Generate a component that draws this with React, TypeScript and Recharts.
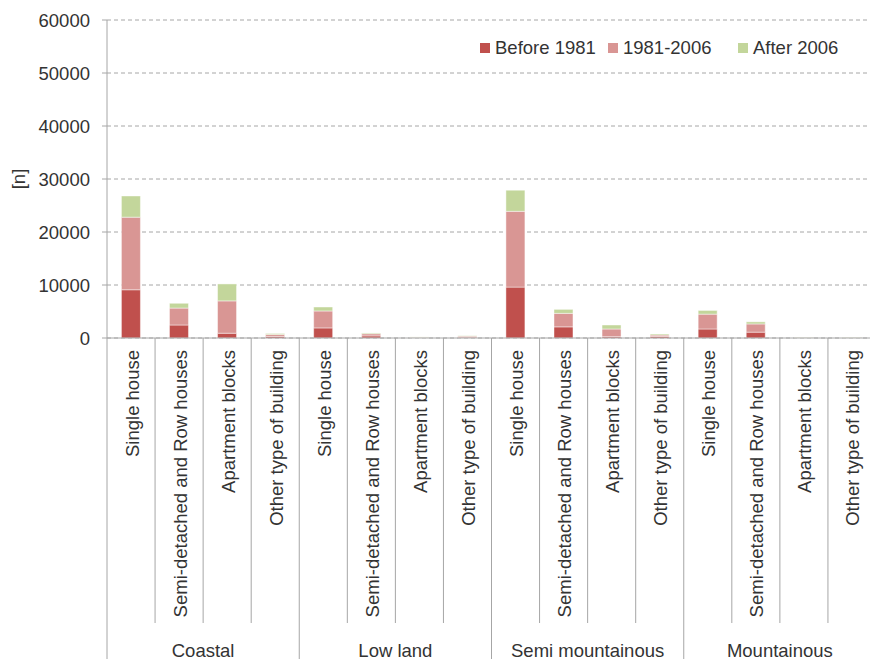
import React from "react";
import { BarChart, Bar, XAxis, YAxis, CartesianGrid, Legend, Label } from "recharts";

const regions = ["Coastal", "Low land", "Semi mountainous", "Mountainous"];
const buildingTypes = [
  "Single house",
  "Semi-detached and Row houses",
  "Apartment blocks",
  "Other type of building",
];
const before1981 = [9100, 2450, 900, 300, 1900, 400, 50, 150, 9600, 2100, 250, 300, 1700, 1100, 30, 30];
const from1981to2006 = [13700, 3200, 6100, 350, 3200, 400, 80, 200, 14300, 2550, 1450, 250, 2800, 1550, 50, 60];
const after2006 = [4000, 900, 3200, 200, 750, 150, 70, 80, 4000, 750, 750, 200, 700, 400, 80, 80];
const yTicks = [0, 10000, 20000, 30000, 40000, 50000, 60000];
const seriesNames = ["Before 1981", "1981-2006", "After 2006"];
const seriesColors = ["#C0504D", "#D99694", "#C3D69B"];

const data = regions.flatMap((region, gi) =>
  buildingTypes.map((type, ti) => {
    const i = gi * 4 + ti;
    return {
      id: `${region}|${type}`,
      region,
      type,
      before: before1981[i],
      mid: from1981to2006[i],
      after: after2006[i],
    };
  })
);

const FONT = "'Liberation Sans', Arial, sans-serif";
const FS = 18.5;
const TEXT = "#333333";
const AXIS = "#a6a6a6";
const CHART_W = 876;
const CHART_H = 659;
const Y_AXIS_W = 107;
const TOP = 20;
const X_AXIS_H = 321;
const AXIS_Y = CHART_H - X_AXIS_H;
const STEP = (CHART_W - Y_AXIS_W) / data.length;
const LEGEND_ITEM_W = [128, 130, 130];

const CategoryTick = (props: any) => {
  const { x, index } = props;
  const row = data[index];
  if (!row) return null;
  const left = x - STEP / 2;
  const isGroupStart = index % 4 === 0;
  const ty = AXIS_Y + 12;
  return (
    <g>
      <line x1={left} y1={AXIS_Y} x2={left} y2={isGroupStart ? CHART_H : 623} stroke={AXIS} strokeWidth={1} />
      {index === data.length - 1 && (
        <line x1={x + STEP / 2} y1={AXIS_Y} x2={x + STEP / 2} y2={CHART_H} stroke={AXIS} strokeWidth={1} />
      )}
      <text
        x={x + 1}
        y={ty}
        transform={`rotate(-90 ${x + 1} ${ty})`}
        textAnchor="end"
        dominantBaseline="central"
        fontFamily={FONT}
        fontSize={FS}
        fill={TEXT}
      >
        {row.type}
      </text>
      {isGroupStart && (
        <text
          x={left + STEP * 2}
          y={650}
          textAnchor="middle"
          dominantBaseline="central"
          fontFamily={FONT}
          fontSize={FS}
          fill={TEXT}
        >
          {row.region}
        </text>
      )}
    </g>
  );
};

const LegendContent = () => (
  <div style={{ display: "flex", alignItems: "center", fontFamily: FONT, fontSize: FS, color: TEXT, whiteSpace: "nowrap" }}>
    {seriesNames.map((n, i) => (
      <div key={n} style={{ display: "flex", alignItems: "center", width: LEGEND_ITEM_W[i] }}>
        <span style={{ display: "inline-block", width: 10, height: 10, background: seriesColors[i], marginRight: 5 }} />
        <span>{n}</span>
      </div>
    ))}
  </div>
);

export default function App() {
  return (
    <div style={{ position: "absolute", left: 0, top: 0, width: 870, height: 659, overflow: "hidden", background: "#fff" }}>
      <BarChart
        width={CHART_W}
        height={CHART_H}
        data={data}
        margin={{ top: TOP, right: 0, left: 0, bottom: 0 }}
        barCategoryGap="30%"
      >
        <CartesianGrid vertical={false} stroke={AXIS} strokeDasharray="4 3" />
        <XAxis
          dataKey="id"
          height={X_AXIS_H}
          interval={0}
          tickLine={false}
          axisLine={{ stroke: AXIS }}
          tick={<CategoryTick />}
        />
        <YAxis
          width={Y_AXIS_W}
          domain={[0, 60000]}
          ticks={yTicks}
          interval={0}
          tickSize={5}
          tickMargin={12}
          axisLine={{ stroke: AXIS }}
          tickLine={{ stroke: AXIS }}
          tick={{ fontFamily: FONT, fontSize: FS, fill: TEXT }}
        >
          <Label
            content={() => (
              <text
                x={18}
                y={179}
                transform="rotate(-90 18 179)"
                textAnchor="middle"
                dominantBaseline="central"
                fontFamily={FONT}
                fontSize={FS}
                fill={TEXT}
              >
                [n]
              </text>
            )}
          />
        </YAxis>
        <Legend
          layout="horizontal"
          verticalAlign="middle"
          align="center"
          content={<LegendContent />}
          wrapperStyle={{ top: 37, left: 480, width: 400 }}
        />
        <Bar dataKey="before" name={seriesNames[0]} stackId="a" fill={seriesColors[0]} stroke="#ffffff" strokeOpacity={0.45} isAnimationActive={false} />
        <Bar dataKey="mid" name={seriesNames[1]} stackId="a" fill={seriesColors[1]} stroke="#ffffff" strokeOpacity={0.45} isAnimationActive={false} />
        <Bar dataKey="after" name={seriesNames[2]} stackId="a" fill={seriesColors[2]} stroke="#ffffff" strokeOpacity={0.45} isAnimationActive={false} />
      </BarChart>
    </div>
  );
}
